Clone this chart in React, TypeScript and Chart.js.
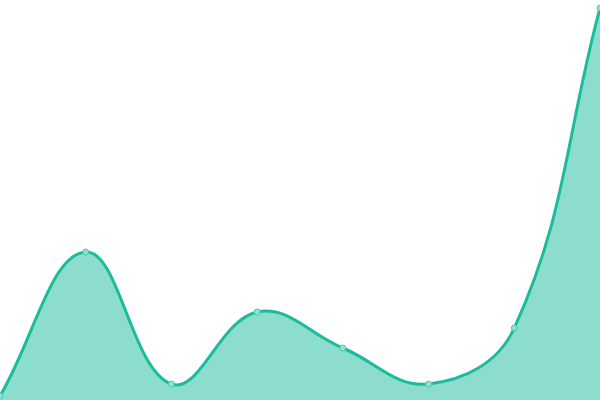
import React, { useEffect, useRef } from "react";
import Chart from "chart.js/auto";

const labels = ["1", "2", "3", "4", "5", "6", "7", "8"];
const values = [1, 37, 4, 22, 13, 4, 18, 98];

export default function App() {
  const canvasRef = useRef<HTMLCanvasElement | null>(null);

  useEffect(() => {
    const canvas = canvasRef.current;
    if (!canvas) return;

    const chart = new Chart(canvas, {
      type: "line",
      data: {
        labels,
        datasets: [
          {
            data: values,
            fill: true,
            tension: 0.4,
            borderColor: "#1abc9c",
            borderWidth: 3,
            backgroundColor: "rgba(26, 188, 156, 0.5)",
            pointRadius: 3,
            pointBackgroundColor: "#8ee2d2",
            pointBorderColor: "#4cc9b0",
            pointBorderWidth: 1,
          },
        ],
      },
      options: {
        animation: false,
        responsive: true,
        maintainAspectRatio: false,
        layout: { padding: 0, autoPadding: false },
        plugins: {
          legend: { display: false },
          tooltip: { enabled: false },
        },
        scales: {
          x: { display: false },
          y: { display: false, min: 0, max: 100 },
        },
      },
    });

    return () => chart.destroy();
  }, []);

  return (
    <div style={{ position: "fixed", top: 0, left: 0, width: 600, height: 400 }}>
      <canvas ref={canvasRef}></canvas>
    </div>
  );
}
